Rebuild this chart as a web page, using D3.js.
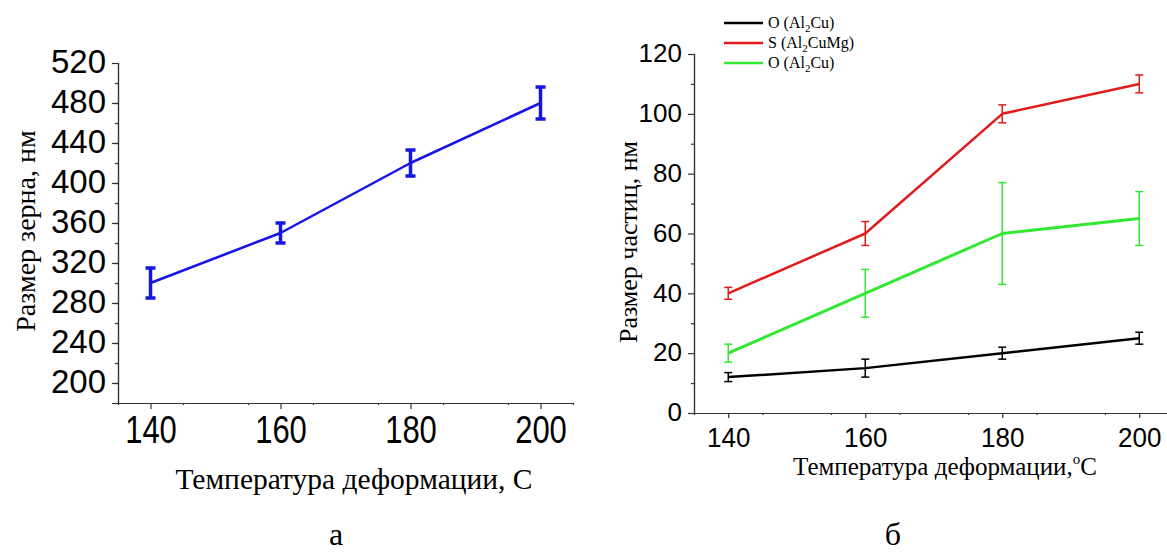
<!DOCTYPE html>
<html>
<head>
<meta charset="utf-8">
<script src="https://cdn.jsdelivr.net/npm/d3@7"></script>
<style>
  body { margin: 0; background: #fff; }
  svg { display: block; }
  .tick text { fill: #000; }
</style>
</head>
<body>
<svg id="svg" width="1167" height="553"></svg>
<script>
// --- data ---
const temps = [140, 160, 180, 200];

// panel a: grain size
const grainSize = [300, 350, 420, 480];
const grainErr = [15, 10, 13, 16];
const grainTicks = [200, 240, 280, 320, 360, 400, 440, 480, 520];

// panel b: particle size
const seriesNames = ["O (Al2Cu)", "S (Al2CuMg)", "O (Al2Cu)"];
const blackVals = [12, 15, 20, 25];
const blackErr = [1.5, 3, 2, 2];
const redVals = [40, 60, 100, 110];
const redErr = [2, 4, 3, 3];
const greenVals = [20, 40, 60, 65];
const greenErr = [3, 8, 17, 9];
const particleTicks = [0, 20, 40, 60, 80, 100, 120];
const xTicks = [140, 160, 180, 200];

const svg = d3.select("#svg");
const sans = "'Liberation Sans', Arial, sans-serif";
const serif = "'Liberation Serif', 'Times New Roman', serif";

function range(a, b, step) {
    const out = [];
    for (let v = a; v <= b + 1e-9; v += step) out.push(v);
    return out;
}

function drawSeries(g, x, y, vals, errs, color, lw, capW, capLw) {
    const line = d3.line().x((d, i) => x(temps[i])).y(d => y(d));
    g.append("path")
        .datum(vals)
        .attr("d", line)
        .attr("fill", "none")
        .attr("stroke", color)
        .attr("stroke-width", lw)
        .attr("stroke-linejoin", "round");

    const eb = g.selectAll(null).data(vals).enter().append("g");
    eb.append("line")
        .attr("x1", (d, i) => x(temps[i]))
        .attr("x2", (d, i) => x(temps[i]))
        .attr("y1", (d, i) => y(d - errs[i]))
        .attr("y2", (d, i) => y(d + errs[i]))
        .attr("stroke", color).attr("stroke-width", capLw);
    [-1, 1].forEach(s => {
        eb.append("line")
            .attr("x1", (d, i) => x(temps[i]) - capW / 2)
            .attr("x2", (d, i) => x(temps[i]) + capW / 2)
            .attr("y1", (d, i) => y(d + s * errs[i]))
            .attr("y2", (d, i) => y(d + s * errs[i]))
            .attr("stroke", color).attr("stroke-width", capLw);
    });
}

function styleAxis(g) {
    g.select(".domain").attr("stroke", "#333").attr("stroke-width", 1.2);
    g.selectAll(".tick line").attr("stroke", "#333").attr("stroke-width", 1.2);
}

// ---------- panel a ----------
{
    const x = d3.scaleLinear().domain([135, 205]).range([118, 573]);
    const y = d3.scaleLinear().domain([180, 520]).range([403, 63]);
    const g = svg.append("g");

    // minor ticks
    g.append("g").attr("transform", "translate(118,0)")
        .call(d3.axisLeft(y).tickValues(range(180, 500, 20)).tickSize(3).tickFormat(""))
        .call(styleAxis);
    g.append("g").attr("transform", "translate(0,403)")
        .call(d3.axisBottom(x).tickValues(range(145, 195, 10)).tickSize(2).tickFormat(""))
        .call(styleAxis);

    const ya = g.append("g").attr("transform", "translate(118,0)")
        .call(d3.axisLeft(y).tickValues(grainTicks).tickSize(6).tickPadding(6))
        .call(styleAxis);
    ya.selectAll("text").style("font-family", sans).style("font-size", "33px")
        .attr("dy", "0.28em");

    const xa = g.append("g").attr("transform", "translate(0,403)")
        .call(d3.axisBottom(x).tickValues(xTicks).tickSize(6).tickSizeOuter(0))
        .call(styleAxis);
    xa.selectAll(".tick text").style("font-family", sans).style("font-size", "31px")
        .attr("y", 0).attr("dy", 0)
        .attr("transform", "translate(0,40) scale(1,1.25)");

    drawSeries(g, x, y, grainSize, grainErr, "#1414e6", 2.5, 10, 3.5);

    g.append("text")
        .attr("transform", "translate(35,231) rotate(-90)")
        .attr("text-anchor", "middle")
        .style("font-family", serif).style("font-size", "28px")
        .text("Размер зерна, нм");

    g.append("text")
        .attr("x", 354).attr("y", 489)
        .attr("text-anchor", "middle")
        .style("font-family", serif).style("font-size", "29.5px")
        .text("Температура деформации, С");

    g.append("text")
        .attr("x", 336).attr("y", 545)
        .attr("text-anchor", "middle")
        .style("font-family", serif).style("font-size", "32px")
        .text("а");
}

// ---------- panel b ----------
{
    const x = d3.scaleLinear().domain([135, 205]).range([694, 1173.5]);
    const y = d3.scaleLinear().domain([0, 120]).range([413, 54]);
    const g = svg.append("g");

    g.append("g").attr("transform", "translate(694,0)")
        .call(d3.axisLeft(y).tickValues(range(10, 110, 20)).tickSize(3).tickFormat(""))
        .call(styleAxis);
    g.append("g").attr("transform", "translate(0,413)")
        .call(d3.axisBottom(x).tickValues(range(145, 195, 10)).tickSize(2).tickFormat(""))
        .call(styleAxis);

    const ya = g.append("g").attr("transform", "translate(694,0)")
        .call(d3.axisLeft(y).tickValues(particleTicks).tickSize(6).tickPadding(6))
        .call(styleAxis);
    ya.selectAll("text").style("font-family", sans).style("font-size", "26px")
        .attr("dy", "0.3em");

    const xa = g.append("g").attr("transform", "translate(0,413)")
        .call(d3.axisBottom(x).tickValues(xTicks).tickSize(5).tickSizeOuter(0))
        .call(styleAxis);
    xa.selectAll(".tick text").style("font-family", sans).style("font-size", "26px")
        .attr("y", 0).attr("dy", 0)
        .attr("transform", "translate(0,34) scale(1,1.08)");

    drawSeries(g, x, y, blackVals, blackErr, "#000000", 2.5, 8, 1.5);
    drawSeries(g, x, y, greenVals, greenErr, "#33e833", 3, 8, 1.5);
    drawSeries(g, x, y, redVals, redErr, "#e01b1b", 2.5, 8, 1.5);

    g.append("text")
        .attr("transform", "translate(637,242) rotate(-90)")
        .attr("text-anchor", "middle")
        .style("font-family", serif).style("font-size", "26px")
        .text("Размер частиц, нм");

    const xl = g.append("text")
        .attr("x", 945).attr("y", 475)
        .attr("text-anchor", "middle")
        .style("font-family", serif).style("font-size", "25px");
    xl.append("tspan").text("Температура деформации,");
    xl.append("tspan").attr("dy", -11).style("font-size", "15px").text("o");
    xl.append("tspan").attr("dy", 11).text("С");

    g.append("text")
        .attr("x", 893).attr("y", 545)
        .attr("text-anchor", "middle")
        .style("font-family", serif).style("font-size", "32px")
        .text("б");

    // legend
    const legColors = ["#000000", "#e01b1b", "#33e833"];
    const leg = g.selectAll(".leg").data(seriesNames).enter().append("g")
        .attr("transform", (d, i) => `translate(724,${23 + i * 20})`);
    leg.append("line").attr("x1", 0).attr("x2", 39)
        .attr("stroke", (d, i) => legColors[i]).attr("stroke-width", 2.5);
    const lt = leg.append("text").attr("x", 44).attr("y", 5)
        .style("font-family", serif).style("font-size", "16px");
    lt.each(function (d) {
        const t = d3.select(this);
        const parts = d.split("2");
        t.append("tspan").text(parts[0]);
        t.append("tspan").attr("dy", 4).style("font-size", "11px").text("2");
        t.append("tspan").attr("dy", -4).text(parts[1]);
    });
}
</script>
</body>
</html>
